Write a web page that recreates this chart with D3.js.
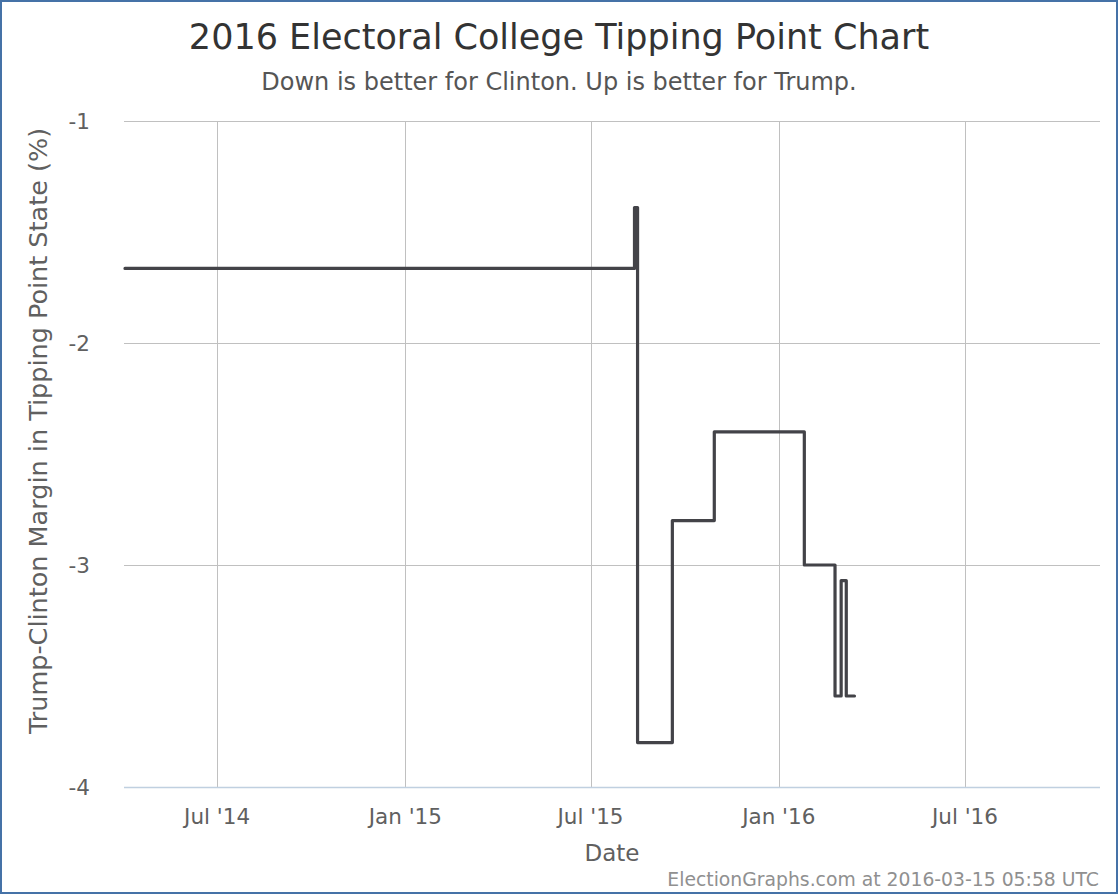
<!DOCTYPE html>
<html><head><meta charset="utf-8">
<script src="https://cdn.jsdelivr.net/npm/d3@7"></script>
<style>body{margin:0;background:#fff}svg{display:block}text{font-family:"DejaVu Sans",sans-serif}</style>
</head><body><svg id="c" width="1120" height="896"></svg>
<script>
const dates = ["2014-04-02","2015-08-13","2015-08-16","2015-09-19","2015-10-30","2016-01-26","2016-02-25","2016-03-02","2016-03-07","2016-03-15"];
const margins = [-1.664,-1.39,-3.80,-2.80,-2.40,-3.00,-3.59,-3.07,-3.59,-3.59];
const xTickDates = ["2014-07-01","2015-01-01","2015-07-01","2016-01-01","2016-07-01"];
const yTicks = [-1,-2,-3,-4];
const title = "2016 Electoral College Tipping Point Chart";
const subtitle = "Down is better for Clinton. Up is better for Trump.";
const yTitle = "Trump-Clinton Margin in Tipping Point State (%)";
const xTitle = "Date";
const credit = "ElectionGraphs.com at 2016-03-15 05:58 UTC";

const parse = d3.utcParse("%Y-%m-%d");
const data = dates.map((d,i)=>({date:parse(d), v:margins[i]}));
const svg = d3.select("#c");
const L=125, R=1100, T=121, B=787;
const x = d3.scaleUtc().domain([parse("2014-04-02"), parse("2016-11-10")]).range([L,R]);
const y = d3.scaleLinear().domain([-4,-1]).range([B,T]);

svg.append("rect").attr("x",1).attr("y",1).attr("width",1116).attr("height",892)
  .attr("fill","#fff").attr("stroke","#4572A7").attr("stroke-width",2);

svg.append("g").selectAll("line").data(yTicks).join("line")
  .attr("x1",L-1).attr("x2",R).attr("y1",d=>Math.round(y(d))+0.5).attr("y2",d=>Math.round(y(d))+0.5)
  .attr("stroke","#C0C0C0").attr("stroke-width",1);
svg.append("g").selectAll("line").data(xTickDates.map(parse)).join("line")
  .attr("x1",d=>Math.round(x(d))+0.5).attr("x2",d=>Math.round(x(d))+0.5).attr("y1",T).attr("y2",B)
  .attr("stroke","#C0C0C0").attr("stroke-width",1);
svg.append("line").attr("x1",L-1).attr("x2",R).attr("y1",B+0.5).attr("y2",B+0.5)
  .attr("stroke","#C0D0E0").attr("stroke-width",1.5);

svg.append("g").selectAll("text").data(yTicks).join("text")
  .attr("x",90).attr("y",d=>y(d)).attr("dy","0.35em").attr("text-anchor","end")
  .attr("fill","#606060").attr("font-size",21.5).text(d=>String(d));
const fmt = d => d3.utcFormat("%b '%y")(d);
svg.append("g").selectAll("text").data(xTickDates.map(parse)).join("text")
  .attr("x",d=>x(d)).attr("y",824).attr("text-anchor","middle")
  .attr("fill","#606060").attr("font-size",21.5).text(fmt);

const line = d3.line().x(d=>x(d.date)).y(d=>y(d.v)).curve(d3.curveStepAfter);
svg.append("path").datum(data).attr("d",line).attr("fill","none")
  .attr("stroke","#434348").attr("stroke-width",3.2).attr("stroke-linejoin","round").attr("stroke-linecap","round");

svg.append("text").attr("x",559).attr("y",49).attr("text-anchor","middle").attr("fill","#333")
  .attr("font-size",35).text(title);
svg.append("text").attr("x",559).attr("y",90).attr("text-anchor","middle").attr("fill","#555")
  .attr("font-size",24).text(subtitle);
svg.append("text").attr("transform","translate(47,431) rotate(-90)").attr("text-anchor","middle")
  .attr("fill","#606060").attr("font-size",25.5).text(yTitle);
svg.append("text").attr("x",612).attr("y",861).attr("text-anchor","middle").attr("fill","#606060")
  .attr("font-size",23).text(xTitle);
svg.append("text").attr("x",1099).attr("y",886).attr("text-anchor","end").attr("fill","#909090")
  .attr("font-size",18.8).text(credit);
</script></body></html>
